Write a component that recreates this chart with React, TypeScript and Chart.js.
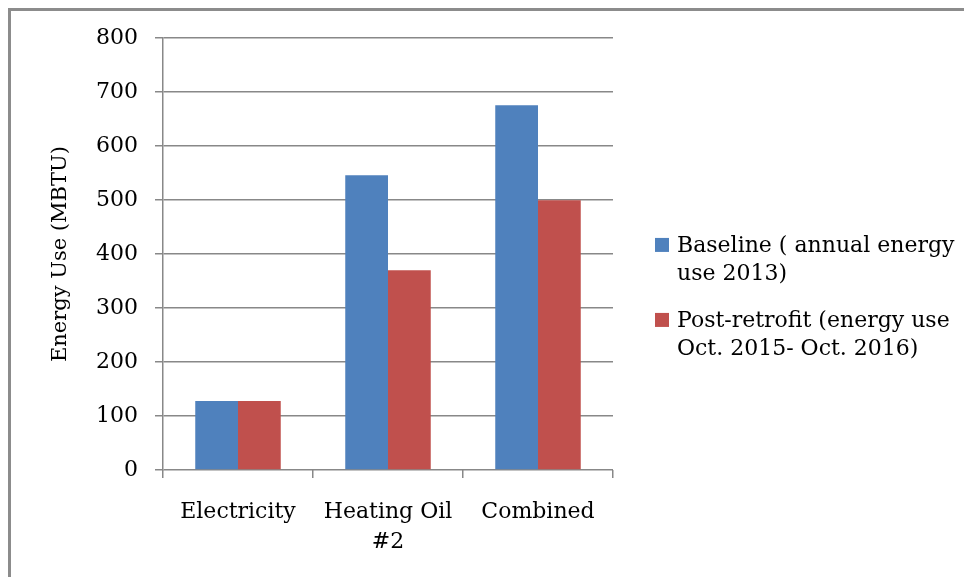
import React, { useEffect, useRef } from "react";
import { Chart, registerables } from "chart.js";

Chart.register(...registerables);

const categories: (string | string[])[] = ["Electricity", ["Heating Oil", "#2"], "Combined"];
const baselineValues = [128, 546, 676];
const postRetrofitValues = [128, 370, 500];
const baselineLabel = ["Baseline ( annual energy", "use 2013)"];
const postRetrofitLabel = ["Post-retrofit (energy use", "Oct. 2015- Oct. 2016)"];
const yTitle = "Energy Use (MBTU)";

const FONT = "'DejaVu Serif', serif";
const FS = 22;

const sideLegend = {
  id: "sideLegend",
  afterDraw(chart: any) {
    const { ctx, chartArea } = chart;
    const x0 = chartArea.right + 42;
    let base = chartArea.top + 213.7;
    ctx.save();
    ctx.font = `${FS}px ${FONT}`;
    ctx.textBaseline = "alphabetic";
    ctx.textAlign = "left";
    chart.data.datasets.forEach((ds: any) => {
      const lines: string[] = ds.legendLines;
      ctx.fillStyle = ds.backgroundColor;
      ctx.fillRect(x0, base - 14, 14, 14);
      ctx.fillStyle = "#000";
      lines.forEach((t, i) => ctx.fillText(t, x0 + 22, base + i * 28.3));
      base += 75;
    });
    ctx.restore();
  },
};

export default function App() {
  const ref = useRef<HTMLCanvasElement | null>(null);
  useEffect(() => {
    if (!ref.current) return;
    const chart = new Chart(ref.current, {
      type: "bar",
      data: {
        labels: categories,
        datasets: [
          { label: baselineLabel.join(" "), legendLines: baselineLabel, data: baselineValues, backgroundColor: "#4f81bd" } as any,
          { label: postRetrofitLabel.join(" "), legendLines: postRetrofitLabel, data: postRetrofitValues, backgroundColor: "#c0504d" } as any,
        ],
      },
      plugins: [sideLegend],
      options: {
        responsive: false,
        animation: false,
        layout: { padding: { top: 0, left: 0, right: 359, bottom: 0 } },
        datasets: { bar: { categoryPercentage: 0.57, barPercentage: 1 } },
        plugins: {
          tooltip: { enabled: false },
          legend: { display: false },
        },
        scales: {
          x: {
            grid: { drawOnChartArea: false, drawTicks: true, tickLength: 8, color: "#888", lineWidth: 1.5, offset: true },
            border: { display: false },
            ticks: { color: "#000", font: { family: FONT, size: FS, lineHeight: 1.34 }, padding: 20, maxRotation: 0 },
          },
          y: {
            min: 0,
            max: 800,
            afterFit: (s: any) => {
              s.width = 152;
            },
            ticks: { stepSize: 100, color: "#000", font: { family: FONT, size: FS, lineHeight: 0.93 }, padding: 17 },
            grid: { color: "#888", lineWidth: 1.5, tickLength: 8 },
            border: { color: "#888", width: 1.5 },
            title: { display: true, text: yTitle, color: "#000", font: { family: FONT, size: 21 }, padding: { top: 37, bottom: 0 } },
          },
        },
      },
    });
    return () => chart.destroy();
  }, []);
  return (
    <div
      style={{
        borderTop: "3px solid #8c8c8c",
        borderLeft: "3px solid #8c8c8c",
        width: 961,
        height: 566,
        background: "#fff",
      }}
    >
      <canvas ref={ref} width={961} height={566} style={{ display: "block", width: 961, height: 566 }} />
    </div>
  );
}
